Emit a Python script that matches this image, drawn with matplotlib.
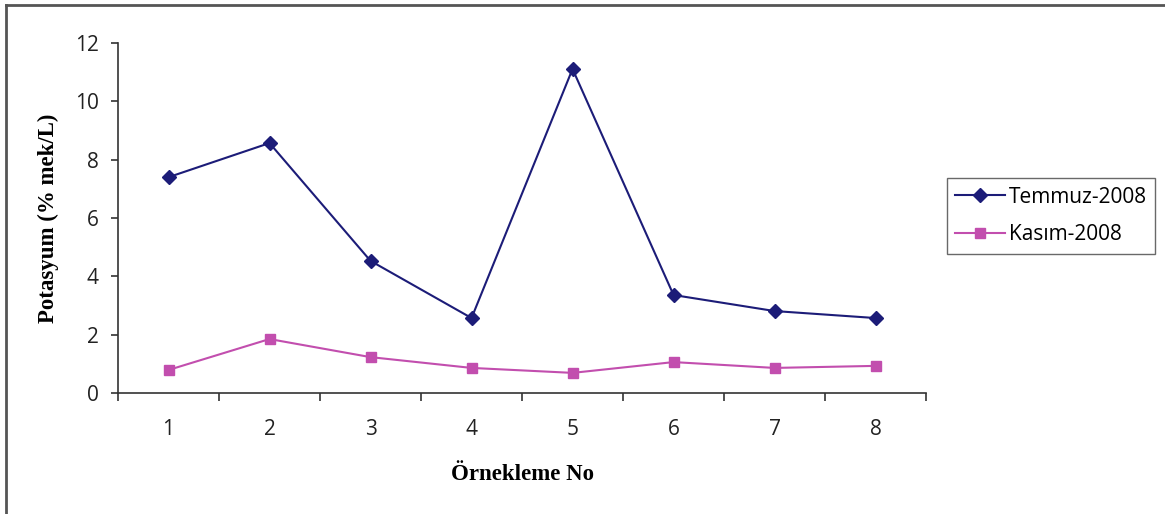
import matplotlib.pyplot as plt
import numpy as np

plt.rcParams['font.family'] = 'Open Sans'

# sampling points and potassium readings for the two campaigns
ornek_no = [1, 2, 3, 4, 5, 6, 7, 8]
temmuz = [7.40, 8.57, 4.53, 2.57, 11.11, 3.36, 2.81, 2.57]
kasim = [0.79, 1.85, 1.23, 0.86, 0.69, 1.06, 0.86, 0.93]

fig = plt.figure(figsize=(11.65, 5.14), dpi=100)
ax = fig.add_axes([0.1013, 0.2354, 0.6936, 0.6809])

ax.plot(ornek_no, temmuz, '-D', color='#1c1c78', lw=1.5, ms=7, label='Temmuz-2008')
ax.plot(ornek_no, kasim, '-s', color='#c24eae', lw=1.5, ms=7, label='Kasım-2008')

ax.set_xlim(0.5, 8.5)
ax.set_ylim(0, 12)
ax.set_yticks(np.arange(0, 13, 2))

# category axis: ticks between points, labels centered on points
ax.set_xticks(np.arange(0.5, 9, 1))
ax.set_xticklabels([])
ax.set_xticks(ornek_no, minor=True)
ax.set_xticklabels([str(n) for n in ornek_no], minor=True)
ax.tick_params(axis='x', which='minor', length=0, pad=19, labelsize=15,
               labelcolor='#222222')
ax.tick_params(axis='x', which='major', length=6, width=1.2, color='#333333')
ax.tick_params(axis='y', length=5, width=1.2, color='#333333', pad=9,
               labelsize=15, labelcolor='#222222')

for s in ['top', 'right']:
    ax.spines[s].set_visible(False)
for s in ['left', 'bottom']:
    ax.spines[s].set_color('#333333')
    ax.spines[s].set_linewidth(1.2)

ax.set_xlabel('Örnekleme No', family='Liberation Serif', fontweight='bold',
              fontsize=16.5, labelpad=17)
ax.set_ylabel('Potasyum (% mek/L)', family='Liberation Serif', fontweight='bold',
              fontsize=16.5, labelpad=11)

leg = ax.legend(loc='center left', bbox_to_anchor=(1.026, 0.506), frameon=True,
                fancybox=False, edgecolor='#444444', borderpad=0.4,
                handlelength=2.4, handletextpad=0.15, labelspacing=0.8,
                borderaxespad=0, prop={'family': 'Open Sans', 'size': 15})
leg.get_frame().set_linewidth(1.0)

# outer frame around the figure
fig.add_artist(plt.Line2D([0.005, 1], [0.99, 0.99], color='#555555', lw=2,
                          transform=fig.transFigure))
fig.add_artist(plt.Line2D([0.005, 0.005], [0, 0.99], color='#555555', lw=2,
                          transform=fig.transFigure))

fig.savefig('out.png', dpi=100)
